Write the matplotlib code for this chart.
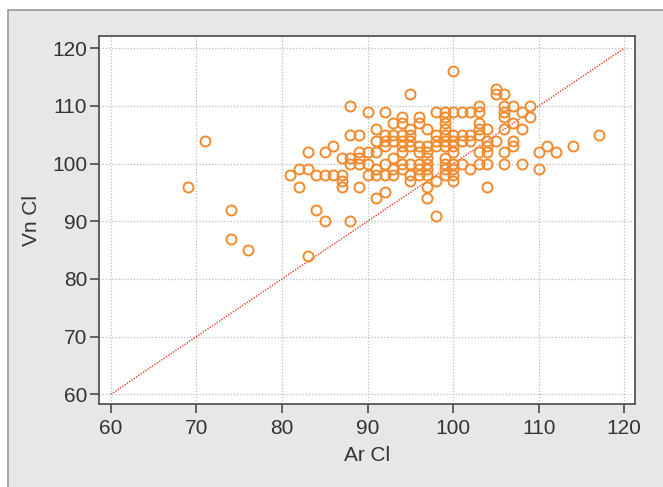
import numpy as np
import matplotlib.pyplot as plt
from matplotlib.patches import Rectangle

plt.rcParams['font.family'] = ['Liberation Sans Narrow', 'Liberation Sans', 'DejaVu Sans']

# Ar Cl value -> list of Vn Cl values
cols = {
    69: [96],
    71: [104],
    74: [92, 87],
    76: [85],
    81: [98],
    82: [99, 96],
    83: [99, 102, 84],
    84: [98, 92],
    85: [98, 102, 90],
    86: [98, 103],
    87: [101, 98, 97, 96],
    88: [110, 105, 101, 100, 90],
    89: [105, 102, 101, 100, 96],
    90: [109, 102, 100, 98],
    91: [106, 104, 102, 99, 98, 94],
    92: [109, 105, 104, 103, 100, 98, 95],
    93: [107, 105, 104, 101, 99, 98],
    94: [108, 107, 105, 104, 103, 102, 100, 99],
    95: [112, 106, 105, 104, 103, 100, 98, 97],
    96: [108, 107, 103, 102, 100, 99, 98],
    97: [106, 103, 102, 101, 100, 99, 98, 96, 94],
    98: [109, 105, 104, 103, 97, 91],
    99: [109, 108, 107, 106, 105, 104, 103, 101, 100, 99, 98],
    100: [116, 109, 105, 104, 103, 102, 100, 99, 98, 97],
    101: [109, 105, 104, 100],
    102: [109, 105, 104, 99],
    103: [110, 109, 107, 106, 105, 102, 100],
    104: [106, 104, 103, 102, 100, 96],
    105: [113, 112, 104],
    106: [112, 110, 109, 108, 106, 102, 100],
    107: [110, 107, 104, 103],
    108: [109, 106, 100],
    109: [110, 108],
    110: [102, 99],
    111: [103],
    112: [102],
    114: [103],
    117: [105],
}
ar_cl = [x for x, ys in cols.items() for _ in ys]
vn_cl = [y for ys in cols.values() for y in ys]

identity = [60, 120]
xticks = [60, 70, 80, 90, 100, 110, 120]
yticks = [60, 70, 80, 90, 100, 110, 120]

fig = plt.figure(figsize=(6.63, 4.87), dpi=100)
fig.patches.append(Rectangle((8 / 663, -0.01), 1.0, (477 / 487) + 0.01,
                             transform=fig.transFigure, facecolor='#e6e7e9',
                             edgecolor='#9a9a9a', linewidth=1.2, zorder=-10))

ax = fig.add_axes([99 / 663, 1 - 404.3 / 487, 536 / 663, 368.3 / 487])
ax.set_zorder(1)
ax.set_facecolor('white')

ax.plot(identity, identity, linestyle=(0, (1, 1)), color='#ea3a26', linewidth=1.0, zorder=2)
ax.plot(ar_cl, vn_cl, 'o', markersize=7.2, markerfacecolor='none',
        markeredgecolor='#f28a2e', markeredgewidth=1.4, zorder=3)

ax.set_xlim(58.63, 121.25)
ax.set_ylim(58.27, 122.13)
ax.set_xticks(xticks)
ax.set_yticks(yticks)
ax.grid(True, linestyle=(0, (1, 1.5)), color='#bdbdbd', linewidth=0.9)
ax.set_axisbelow(True)

for s in ax.spines.values():
    s.set_color('#555555')
    s.set_linewidth(1.3)

ax.tick_params(axis='both', direction='out', length=6.5, width=1.3, color='#555555',
               labelsize=15, labelcolor='#333333')
ax.tick_params(axis='x', pad=4)
ax.tick_params(axis='y', pad=2)

ax.set_xlabel('Ar Cl', fontsize=15, color='#333333', labelpad=6)
ax.set_ylabel('Vn Cl', fontsize=15, color='#333333', labelpad=8)

fig.savefig('out.png', dpi=100)
